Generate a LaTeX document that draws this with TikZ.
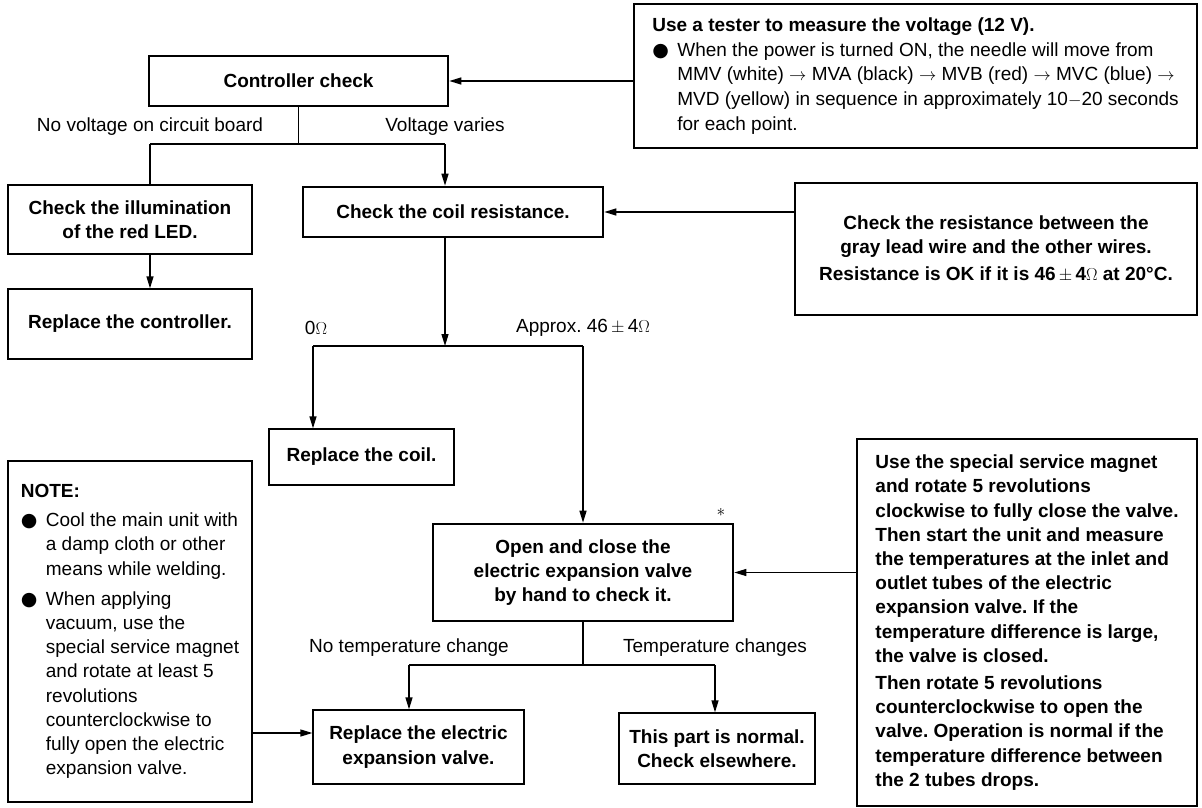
\documentclass[tikz,border=0pt]{standalone}
\usepackage{fontspec}
\setmainfont{Liberation Sans}
\newfontfamily\dvsans{DejaVu Sans}
\usetikzlibrary{arrows.meta}
\frenchspacing
\newcommand\fsz{\fontsize{19}{24.2}\selectfont\frenchspacing}
\newcommand\fszb{\fontsize{19}{24.7}\selectfont\frenchspacing}
\newcommand\blt{\makebox[25pt][l]{{\dvsans ●}}}
\newcommand\ind{\hspace*{25pt}}
\begin{document}
\begin{tikzpicture}[x=1pt,y=-1pt,
  box/.style={draw, line width=1.3pt, inner sep=0pt, align=center, font=\fsz\bfseries},
  thickbox/.style={box, line width=2.6pt},
  lbl/.style={inner sep=0pt, font=\fsz},
  conn/.style={line width=1.3pt},
  arr/.style={conn, -{Triangle[length=12pt,width=7pt]}}]
\useasboundingbox (0,0) rectangle (1202,808);

% boxes
\node[box, minimum width=563pt, minimum height=144pt, align=left, font=\fszb] (tester) at (915.5,76)
 {\textbf{Use a tester to measure the voltage (12 V).}\\
  \blt When the power is turned ON, the needle will move from\\
  \ind MMV (white) $\rightarrow$ MVA (black) $\rightarrow$ MVB (red) $\rightarrow$ MVC (blue) $\rightarrow$\\
  \ind MVD (yellow) in sequence in approximately 10$-$20 seconds\\
  \ind for each point.};
\node[thickbox, minimum width=299pt, minimum height=50pt] (ctrl) at (298.5,81) {Controller check};
\node[box, minimum width=244pt, minimum height=69pt] (illum) at (130,219.5) {Check the illumination\\of the red LED.};
\node[box, minimum width=244pt, minimum height=70pt] (repctrl) at (130,324) {Replace the controller.};
\node[thickbox, minimum width=300pt, minimum height=50pt] (coil) at (453,212) {Check the coil resistance.};
\node[box, minimum width=402pt, minimum height=132pt] (resist) at (996,249)
 {Check the resistance between the\\gray lead wire and the other wires.\\[3pt]
  Resistance is OK if it is 46\,$\pm$\,4$\Omega$ at 20°C.};
\node[box, minimum width=185pt, minimum height=56pt] (repcoil) at (361.5,457) {Replace the coil.};
\node[thickbox, minimum width=300pt, minimum height=97pt] (valve) at (583,572.5)
 {Open and close the\\electric expansion valve\\by hand to check it.};
\node[box, minimum width=340pt, minimum height=367pt, align=left] (magnet) at (1027,622.5)
 {Use the special service magnet\\
  and rotate 5 revolutions\\
  clockwise to fully close the valve.\\
  Then start the unit and measure\\
  the temperatures at the inlet and\\
  outlet tubes of the electric\\
  expansion valve. If the\\
  temperature difference is large,\\
  the valve is closed.\\[3pt]
  Then rotate 5 revolutions\\
  counterclockwise to open the\\
  valve. Operation is normal if the\\
  temperature difference between\\
  the 2 tubes drops.};
\node[box, minimum width=244pt, minimum height=341pt, align=left, font=\fsz] (note) at (130,631.5)
 {\textbf{NOTE:}\\[5pt]
  \blt Cool the main unit with\\
  \ind a damp cloth or other\\
  \ind means while welding.\\[6pt]
  \blt When applying\\
  \ind vacuum, use the\\
  \ind special service magnet\\
  \ind and rotate at least 5\\
  \ind revolutions\\
  \ind counterclockwise to\\
  \ind fully open the electric\\
  \ind expansion valve.};
\node[box, minimum width=211pt, minimum height=74pt] (repeev) at (418.5,747) {Replace the electric\\expansion valve.};
\node[box, minimum width=196pt, minimum height=71pt] (normal) at (717,748.5) {This part is normal.\\Check elsewhere.};

% labels
\node[lbl] (l1) at (150,127) {No voltage on circuit board};
\node[lbl] (l2) at (445,127) {Voltage varies};
\node[lbl] (l3) at (316,328) {0$\Omega$};
\node[lbl] (l4) at (583,328) {Approx. 46\,$\pm$\,4$\Omega$};
\node[lbl] (l5) at (409,648) {No temperature change};
\node[lbl] (l6) at (715,648) {Temperature changes};
\node[lbl] (ast) at (721,512) {$\ast$};

% junctions
\coordinate (j1) at (298.5,144);
\coordinate (j1l) at (150,144);
\coordinate (j1r) at (445,144);
\coordinate (j2) at (445,346);
\coordinate (j2l) at (313,346);
\coordinate (j2r) at (583,346);
\coordinate (j3l) at (409,665);
\coordinate (j3r) at (715,665);
\coordinate (na) at (252,733);

% connectors
\draw[arr] (ctrl.east -| tester.west) -- (ctrl.east);
\draw[conn] (ctrl.south) -- (j1);
\draw[conn] (j1l) -- (j1r);
\draw[conn] (j1l) -- (j1l |- illum.north);
\draw[arr] (j1r) -- (j1r |- coil.north);
\draw[arr] (illum.south -| j1l) -- (j1l |- repctrl.north);
\draw[arr] (coil.east -| resist.west) -- (coil.east);
\draw[arr] (coil.south -| j2) -- (j2);
\draw[conn] (j2l) -- (j2r);
\draw[arr] (j2l) -- (j2l |- repcoil.north);
\draw[arr] (j2r) -- (valve.north);
\draw[arr] (valve.east -| magnet.west) -- (valve.east);
\draw[conn] (valve.south) -- (valve.south |- j3l);
\draw[conn] (j3l) -- (j3r);
\draw[arr] (j3l) -- (j3l |- repeev.north);
\draw[arr] (j3r) -- (j3r |- normal.north);
\draw[arr] (na) -- (na -| repeev.west);
\end{tikzpicture}
\end{document}
